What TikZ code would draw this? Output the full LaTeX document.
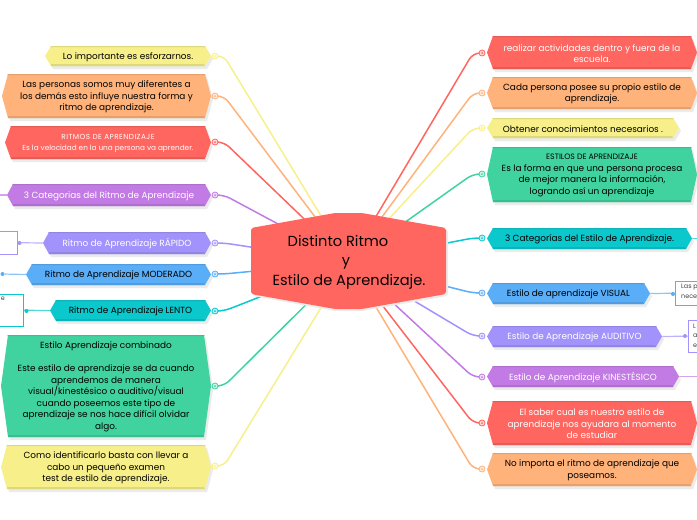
\documentclass[tikz,border=0pt]{standalone}
\usepackage{fontspec}
\setmainfont{Poppins}
\usetikzlibrary{positioning}
\usetikzlibrary{calc}
\usetikzlibrary{backgrounds}
\definecolor{cyel}{HTML}{F7F08A}
\definecolor{cora}{HTML}{FFB27A}
\definecolor{cred}{HTML}{FF6660}
\definecolor{cpur}{HTML}{C27BE4}
\definecolor{clil}{HTML}{A193FB}
\definecolor{cblu}{HTML}{5AADF7}
\definecolor{ctea}{HTML}{0BC8CC}
\definecolor{cgre}{HTML}{40D3A0}
\tikzset{txt/.style={font=\fontsize{8.9}{11.5}\selectfont,align=center,inner sep=0pt,text=#1}}
\tikzset{lnk/.style={line width=1.5pt,rounded corners=7pt,draw=#1}}
\tikzset{stub/.style={line width=1.2pt,draw=#1!70}}
\tikzset{handle/.style={circle,draw=#1,fill=#1!25,line width=.8pt,minimum size=6pt,inner sep=0pt,
  path picture={\fill[#1] (path picture bounding box.center) circle (1pt);}}}
\tikzset{enddot/.style={circle,fill=#1,minimum size=4pt,inner sep=0pt}}
\tikzset{leaf/.style={draw=#1,line width=1pt,fill=white}}
\tikzset{cliptxt/.style={font=\fontsize{6.4}{9.5}\selectfont,align=left,inner sep=0pt,text=black!75}}
% hexagon: name, x1, y1, x2, y2, tip, colour, text colour, text
\newcommand{\hexbox}[9]{
  \fill[black!8] (#2+2+#6,#3+3) -- (#4+2-#6,#3+3) -- (#4+2,{(#3+#5)/2+3}) -- (#4+2-#6,#5+3)
    -- (#2+2+#6,#5+3) -- (#2+2,{(#3+#5)/2+3}) -- cycle;
  \fill[#7] (#2+#6,#3) -- (#4-#6,#3) -- (#4,{(#3+#5)/2}) -- (#4-#6,#5)
    -- (#2+#6,#5) -- (#2,{(#3+#5)/2}) -- cycle;
  \fill[#7!90!black] (#2+#6,#5-2) -- (#4-#6-1,#5-2) -- (#4-#6,#5) -- (#2+#6,#5) -- cycle;
  \fill[#7!90!black] (#2+#6,#3) -- (#4-#6,#3) -- (#4-#6+.8,#3+1.2) -- (#2+#6-.8,#3+1.2) -- cycle;
  \node[txt=#8] (#1) at ({(#2+#4)/2},{(#3+#5)/2+1}) {#9};
  \coordinate (#1-l) at (#2,{(#3+#5)/2});
  \coordinate (#1-r) at (#4,{(#3+#5)/2});
}
\begin{document}
\begin{tikzpicture}[x=1pt,y=-1pt]
\useasboundingbox (0,0) rectangle (697,520);
\clip (0,0) rectangle (697,520);

% left side
\hexbox{esforzarnos}{45}{46}{211}{66}{6}{cyel}{black}{Lo importante es esforzarnos.}
\hexbox{personas}{2}{74}{211}{118}{6}{cora}{black}{Las personas somos muy  diferentes a\\los demás esto influye nuestra forma y\\ritmo de aprendizaje.}
\hexbox{ritmos}{5}{126}{211}{159}{6}{cred}{white}{{\fontsize{7.3}{12}\selectfont\addfontfeature{LetterSpace=6} RITMOS DE APRENDIZAJE}\\{\fontsize{7.3}{12}\selectfont Es la velocidad en la una persona va aprender.}}
\hexbox{catritmo}{7}{184}{211}{206}{6}{cpur}{white}{3 Categorias del Ritmo de Aprendizaje}
\hexbox{rapido}{43}{232}{211}{254}{6}{clil}{white}{Ritmo de Aprendizaje RÁPIDO}
\hexbox{moderado}{26}{264}{211}{285}{6}{cblu}{black}{Ritmo de Aprendizaje MODERADO}
\hexbox{lento}{50}{300}{211}{321}{6}{ctea}{black}{Ritmo de Aprendizaje LENTO}
\hexbox{combinado}{1}{335}{211}{437}{7}{cgre}{black}{Estilo Aprendizaje combinado\\[11.5pt]Este estilo de aprendizaje se da cuando\\aprendemos de manera\\visual/kinestésico o auditivo/visual\\cuando poseemos este tipo de\\aprendizaje se nos hace difícil olvidar\\algo.}
\hexbox{identificar}{1}{445}{211}{489}{6}{cyel}{black}{Como identificarlo basta con llevar a\\cabo un pequeño examen\\test de estilo de aprendizaje.}

% right side
\hexbox{actividades}{487}{36}{697}{69}{6}{cred}{white}{realizar actividades dentro y fuera de la\\escuela.}
\hexbox{propio}{487}{77}{697}{109}{6}{cora}{black}{Cada persona posee su propio estilo de\\aprendizaje.}
\hexbox{obtener}{487}{118}{679}{138}{6}{cyel}{black}{Obtener conocimientos necesarios .}
\hexbox{estilos}{487}{147}{697}{202}{6}{cgre}{black}{{\fontsize{7.8}{11.5}\selectfont ESTILOS DE APRENDIZAJE}\\Es la forma en  que  una  persona procesa\\de  mejor  manera  la información,\\logrando  así  un aprendizaje}
\hexbox{catestilo}{487}{228}{692}{249}{6}{ctea}{black}{3 Categorías del Estilo de Aprendizaje.}
\hexbox{visual}{487}{283}{650}{304}{6}{cblu}{black}{Estilo de aprendizaje VISUAL}
\hexbox{auditivo}{487}{326}{662}{347}{6}{clil}{white}{Estilo de Aprendizaje AUDITIVO}
\hexbox{kinestesico}{487}{366}{679}{387}{6}{cpur}{white}{Estilo de Aprendizaje KINESTÉSICO}
\hexbox{saber}{487}{401}{697}{445}{6}{cred}{white}{El saber cual es nuestro estilo de\\aprendizaje nos ayudara al momento\\de estudiar}
\hexbox{importa}{487}{453}{697}{486}{6}{cora}{black}{No importa el ritmo de aprendizaje que\\poseamos.}

% hub
\node[font=\fontsize{14.6}{19.5}\selectfont,align=center,inner sep=0pt] (hub) at (349,262) {\mbox{Distinto Ritmo\hspace{22pt}}\\\mbox{y\hspace{6pt}}\\Estilo de Aprendizaje.};

% handles
\foreach \name/\px/\py/\col in {a1/215/56/cyel,a2/215/96/cora,a3/215/142/cred,a4/215/195/cpur,a5/215/243/clil,a6/215/274/cblu,a7/215/311/ctea,a8/215/386/cgre,a9/215/466/cyel,
  b1/482/53/cred,b2/482/93/cora,b3/482/128/cyel,b4/482/174/cgre,b5/482/238/ctea,b6/482/293/cblu,b7/482/336/clil,b8/482/377/cpur,b9/482/423/cred,b10/482/469/cora}
  \node[handle=\col] (\name) at (\px,\py) {};

% outer notes
\node[leaf=clil,minimum width=34pt,minimum height=23pt,inner sep=0pt] (noterapido) at (0,242.5) {};
\node[enddot=clil] (dotrapido) at (19.5,243) {};
\node[enddot=cblu] (dotmod) at (2.5,274) {};
\node[leaf=ctea,minimum width=46pt,minimum height=32pt,inner sep=0pt] (notelento) at (0,310) {};
\node[enddot=ctea] (dotlento) at (26.5,311) {};
\node[leaf=cblu,minimum width=44pt,minimum height=24pt,inner sep=0pt] (notevisual) at (697,293) {};
\node[enddot=cblu] (dotvisual) at (673,294) {};
\node[leaf=clil,minimum width=20pt,minimum height=32pt,inner sep=0pt] (noteaud) at (698,336) {};
\node[enddot=clil] (dotaud) at (685,336) {};
\node[cliptxt,anchor=north west] (txtvisual) at (681,284) {Las p\\nece};
\node[cliptxt,anchor=north west] (txtaud) at (693,323.5) {L\\a\\e};
\node[cliptxt,anchor=north east] (txtlento) at (5,297) {e};
\coordinate (edgecat) at (0,195);
\coordinate (edgeest) at (697,238.5);
\coordinate (edgekin) at (697,376.5);

% connectors
\begin{scope}[on background layer]
\foreach \name/\col in {a1/cyel,a2/cora,a3/cred,a4/cpur,a5/clil,a6/cblu,a7/ctea,a8/cgre,a9/cyel}
  \draw[lnk=\col] (\name) -- ($(\name)+(9,0)$) -- (hub.center);
\foreach \name/\col in {b1/cred,b2/cora,b3/cyel,b4/cgre,b5/ctea,b6/cblu,b7/clil,b8/cpur,b9/cred,b10/cora}
  \draw[lnk=\col] (\name) -- ($(\name)+(-9,0)$) -- (hub.center);
\draw[stub=cpur] (edgecat) -- (catritmo-l);
\draw[stub=clil] (noterapido) -- (rapido-l);
\draw[stub=cblu] (dotmod) -- (moderado-l);
\draw[stub=ctea] (notelento) -- (lento-l);
\draw[stub=ctea] (catestilo-r) -- (edgeest);
\draw[stub=cblu] (visual-r) -- (notevisual);
\draw[stub=clil] (auditivo-r) -- (noteaud);
\draw[stub=cpur] (kinestesico-r) -- (edgekin);
\end{scope}

% hub body
\begin{scope}[on background layer]
\fill[black!8,rounded corners=2pt] (253,230) -- (335,215) -- (362,215) -- (448,230) -- (448,296) -- (362,311) -- (335,311) -- (253,296) -- cycle;
\fill[cred,rounded corners=2pt] (251,228) -- (335,213) -- (362,213) -- (446,228) -- (446,294) -- (362,309) -- (335,309) -- (251,294) -- cycle;
\end{scope}
\end{tikzpicture}
\end{document}
